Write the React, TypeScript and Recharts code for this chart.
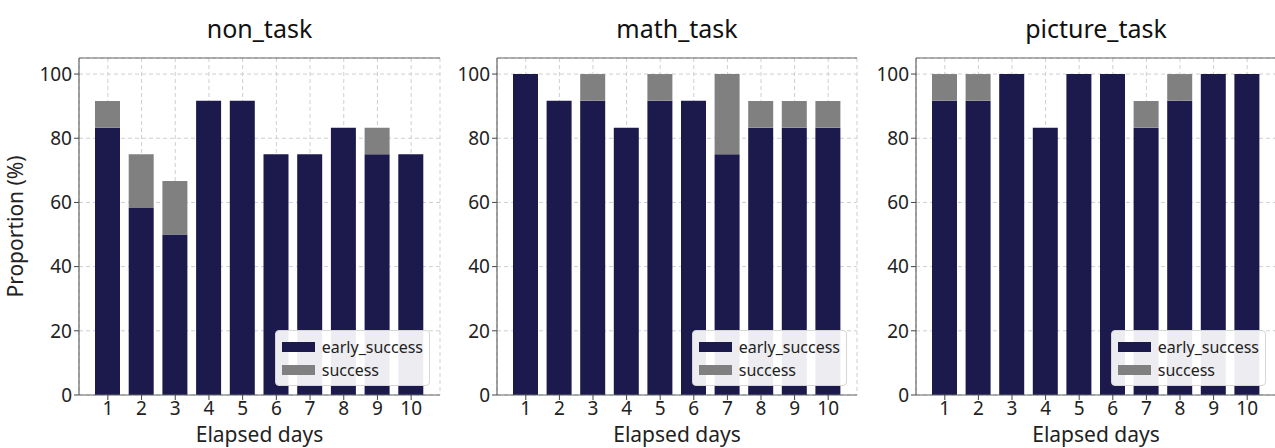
import React from 'react';
import { BarChart, Bar, XAxis, YAxis, CartesianGrid, Legend } from 'recharts';

const days = ['1', '2', '3', '4', '5', '6', '7', '8', '9', '10'];

const nonEarly = [83.3, 58.3, 50, 91.7, 91.7, 75, 75, 83.3, 75, 75];
const nonSuccess = [8.3, 16.7, 16.7, 0, 0, 0, 0, 0, 8.3, 0];

const mathEarly = [100, 91.7, 91.7, 83.3, 91.7, 91.7, 75, 83.3, 83.3, 83.3];
const mathSuccess = [0, 0, 8.3, 0, 8.3, 0, 25, 8.3, 8.3, 8.3];

const pictureEarly = [91.7, 91.7, 100, 83.3, 100, 100, 83.3, 91.7, 100, 100];
const pictureSuccess = [8.3, 8.3, 0, 0, 0, 0, 8.3, 8.3, 0, 0];

const yTicks = [0, 20, 40, 60, 80, 100];

const EARLY_COLOR = '#1c1a4d';
const SUCCESS_COLOR = '#808080';
const FONT = '"Noto Sans", "Noto Sans CJK KR", sans-serif';

const buildRows = (early: number[], success: number[]) =>
  days.map((d, i) => ({ day: d, early_success: early[i], success: success[i] }));

// legend box drawn inside the plot, lower right
function LegendBox(props: any) {
  const items = props.payload || [];
  return (
    <div
      style={{
        background: 'rgba(255,255,255,0.92)',
        border: '1px solid #d6d6d6',
        borderRadius: 4,
        padding: '4px 6px 4px 6px',
        fontFamily: FONT,
        fontSize: 16,
        color: '#222',
        lineHeight: '22px',
      }}
    >
      {items.map((it: any) => (
        <div key={it.value} style={{ display: 'flex', alignItems: 'center', height: 23 }}>
          <span style={{ display: 'inline-block', width: 33, height: 10, background: it.color, marginRight: 7 }} />
          <span>{it.value}</span>
        </div>
      ))}
    </div>
  );
}

interface PanelProps {
  title: string;
  early: number[];
  success: number[];
  left: number;
  width: number;
  axisWidth: number;
  marginRight: number;
  yLabel?: boolean;
}

function Panel({ title, early, success, left, width, axisWidth, marginRight, yLabel }: PanelProps) {
  const data = buildRows(early, success);
  const plotLeft = left + axisWidth;
  const plotRight = left + width - marginRight;
  const center = (plotLeft + plotRight) / 2;
  const tick = { fontSize: 19, fill: '#222', fontFamily: FONT };
  const frame = { stroke: '#666', strokeWidth: 1.2 };

  return (
    <>
      <div
        style={{
          position: 'absolute',
          left: center - 150,
          width: 300,
          top: 11,
          textAlign: 'center',
          fontFamily: FONT,
          fontSize: 25,
          lineHeight: 'normal',
          color: '#111',
        }}
      >
        {title}
      </div>
      <div style={{ position: 'absolute', left, top: 0 }}>
        <BarChart
          width={width}
          height={448}
          data={data}
          margin={{ top: 57, right: marginRight, bottom: 23, left: 0 }}
        >
          <CartesianGrid stroke="#cfcfcf" strokeDasharray="4 3" />
          <XAxis
            dataKey="day"
            height={30}
            padding={{ left: 12, right: 12 }}
            tick={tick}
            tickSize={5}
            tickLine={{ stroke: '#444' }}
            axisLine={frame}
            interval={0}
          />
          <XAxis xAxisId="top" orientation="top" dataKey="day" height={1} tick={false} tickLine={false} axisLine={frame} />
          <YAxis
            width={axisWidth}
            domain={[0, 105]}
            ticks={yTicks}
            allowDataOverflow
            tick={tick}
            tickSize={5}
            tickLine={{ stroke: '#444' }}
            axisLine={frame}
            label={
              yLabel
                ? { value: 'Proportion (%)', angle: -90, position: 'insideLeft', offset: 16, style: { textAnchor: 'middle', fontSize: 21, fill: '#222', fontFamily: FONT } }
                : undefined
            }
          />
          <YAxis yAxisId="right" orientation="right" width={0} tick={false} tickLine={false} axisLine={frame} />
          <Bar dataKey="early_success" stackId="a" fill={EARLY_COLOR} barSize={25} isAnimationActive={false} />
          <Bar dataKey="success" stackId="a" fill={SUCCESS_COLOR} barSize={25} isAnimationActive={false} />
          <Legend
            layout="horizontal"
            align="center"
            verticalAlign="middle"
            content={LegendBox}
            wrapperStyle={{ right: marginRight + 10, bottom: 23 + 30 + 9, left: 'auto', top: 'auto', width: 'auto' }}
          />
        </BarChart>
      </div>
      <div
        style={{
          position: 'absolute',
          left: center - 150,
          width: 300,
          top: 420,
          textAlign: 'center',
          fontFamily: FONT,
          fontSize: 21,
          lineHeight: 'normal',
          color: '#222',
        }}
      >
        Elapsed days
      </div>
    </>
  );
}

export default function App() {
  return (
    <div
      style={{
        position: 'absolute',
        left: 0,
        top: 0,
        width: 1275,
        height: 448,
        overflow: 'hidden',
        background: '#fff',
      }}
    >
      <Panel title="non_task" early={nonEarly} success={nonSuccess} left={0} width={450} axisWidth={79} marginRight={10} yLabel />
      <Panel title="math_task" early={mathEarly} success={mathSuccess} left={450} width={420} axisWidth={47} marginRight={13} />
      <Panel title="picture_task" early={pictureEarly} success={pictureSuccess} left={870} width={410} axisWidth={46} marginRight={4} />
    </div>
  );
}
